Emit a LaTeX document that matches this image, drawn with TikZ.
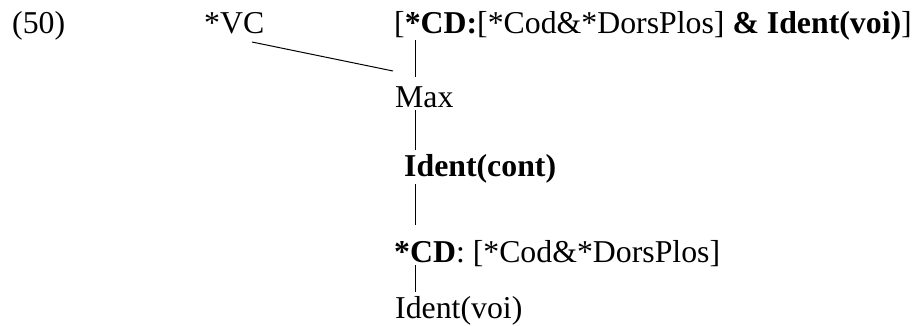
\documentclass[tikz,border=0pt]{standalone}
\usepackage{fontspec}
\setmainfont{Liberation Serif}
\begin{document}
\begin{tikzpicture}[x=1pt,y=-1pt,
  lbl/.style={anchor=base west, inner sep=0pt, font=\fontsize{31.8}{38}\selectfont},
  conn/.style={line width=1pt}]
\useasboundingbox (0,0) rectangle (917,325);
\node[lbl] (num) at (12,33) {(50)};
\node[lbl] (vc) at (204,33) {*VC};
\node[lbl] (top) at (394,33) {[\textbf{*CD:}[*Cod\&*DorsPlos] \textbf{\& Ident(voi)}]};
\node[lbl] (max) at (395,107) {Max};
\node[lbl] (identc) at (404,176) {\textbf{Ident(cont)}};
\node[lbl] (cd) at (394,262) {\textbf{*CD}: [*Cod\&*DorsPlos]};
\node[lbl] (identv) at (395,318) {Ident(voi)};
\coordinate (vl) at (415,0);
\draw[conn] ([xshift=48pt,yshift=-9pt]vc.base west) -- ([xshift=-2pt,yshift=36pt]max.base west);
\draw[conn] ([yshift=-7pt]vl |- top.base) -- ([yshift=30pt]vl |- max.base);
\draw[conn] ([yshift=-3pt]vl |- max.base) -- ([yshift=26pt]vl |- identc.base);
\draw[conn] ([yshift=-8pt]vl |- identc.base) -- ([yshift=37pt]vl |- cd.base);
\draw[conn] ([yshift=-3pt]vl |- cd.base) -- ([yshift=26pt]vl |- identv.base);
\end{tikzpicture}
\end{document}
